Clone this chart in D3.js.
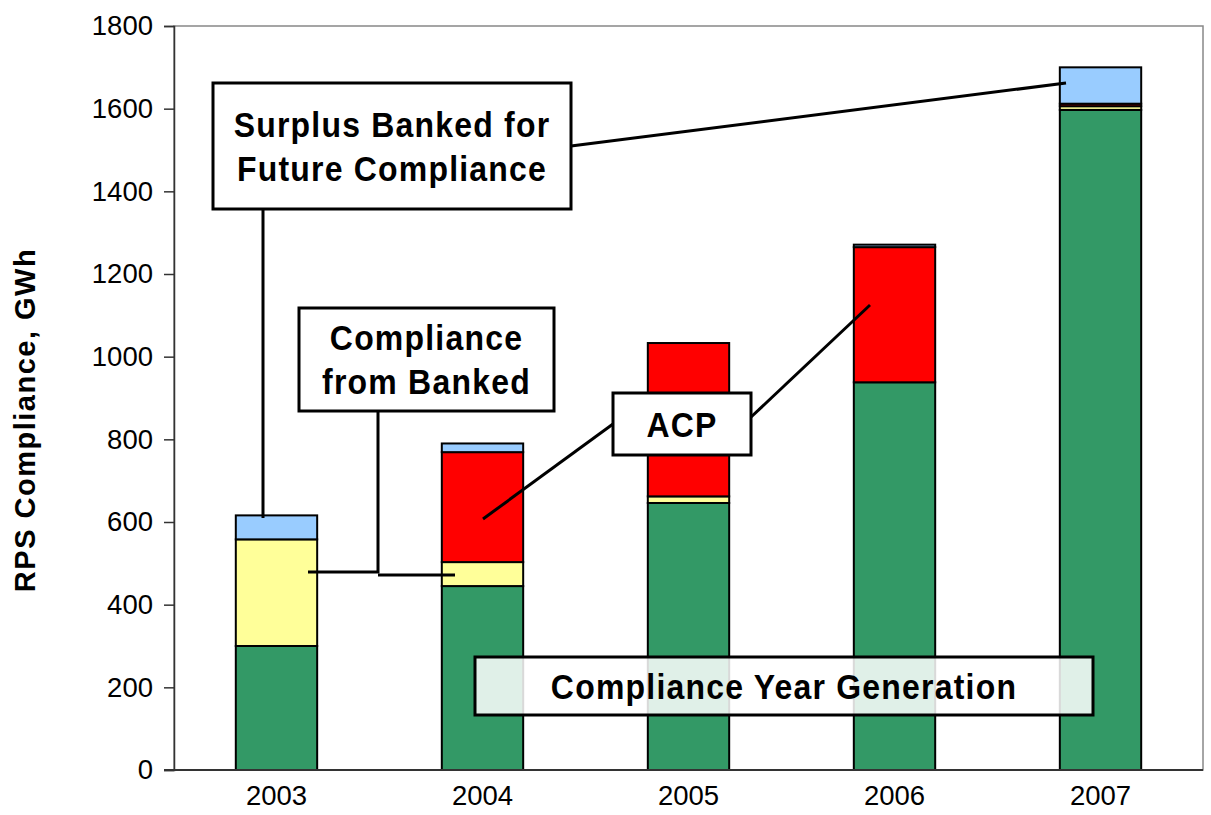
<!DOCTYPE html>
<html>
<head>
<meta charset="utf-8">
<script src="https://cdn.jsdelivr.net/npm/d3@7"></script>
<style>
  body { margin: 0; background: #fff; }
  svg text { font-family: "Liberation Sans", Arial, sans-serif; }
</style>
</head>
<body>
<svg width="1211" height="815"></svg>
<script>
// Data
let years = ["2003", "2004", "2005", "2006", "2007"];
let generation = [300, 445, 646, 938, 1597];
let fromBanked = [258, 58, 16, 0, 9];
let acp = [0, 266, 371, 327, 6];
let surplus = [58, 21, 0, 6, 88];
let yTicks = [0, 200, 400, 600, 800, 1000, 1200, 1400, 1600, 1800];

let seriesKeys = ["generation", "fromBanked", "acp", "surplus"];
let seriesColors = { generation: "#339966", fromBanked: "#ffff99", acp: "#ff0000", surplus: "#99ccff" };

let rows = years.map((y, i) => ({
    year: y,
    generation: generation[i],
    fromBanked: fromBanked[i],
    acp: acp[i],
    surplus: surplus[i]
}));

let svg = d3.select("svg");
let margin = { left: 174, top: 26, right: 8, bottom: 45 };
let width = 1211 - margin.left - margin.right;
let height = 815 - margin.top - margin.bottom;

let x = d3.scaleBand().domain(years).range([margin.left, margin.left + width]).paddingInner(0.605).paddingOuter(0.3);
let y = d3.scaleLinear().domain([0, 1800]).range([margin.top + height, margin.top]);

// Plot area frame
svg.append("rect")
    .attr("x", margin.left).attr("y", margin.top)
    .attr("width", width).attr("height", height)
    .attr("fill", "none").attr("stroke", "#888").attr("stroke-width", 1.5);

// Stacked bars
let stack = d3.stack().keys(seriesKeys);
let layers = stack(rows);

svg.append("g").selectAll("g")
    .data(layers)
    .join("g")
    .attr("fill", d => seriesColors[d.key])
    .selectAll("rect")
    .data(d => d.filter(s => s[1] - s[0] > 0))
    .join("rect")
    .attr("x", d => x(d.data.year))
    .attr("width", x.bandwidth())
    .attr("y", d => y(d[1]))
    .attr("height", d => y(d[0]) - y(d[1]))
    .attr("stroke", "#000")
    .attr("stroke-width", 2);

// Axes
let yAxis = svg.append("g")
    .attr("transform", `translate(${margin.left},0)`)
    .call(d3.axisLeft(y).tickValues(yTicks).tickSize(10).tickPadding(11).tickFormat(d3.format("d")));
yAxis.selectAll("text").attr("font-size", 27.5).attr("fill", "#000").attr("font-family", "Liberation Sans, Arial, sans-serif");
yAxis.selectAll("line, path").attr("stroke", "#333").attr("stroke-width", 1.5);

let xAxis = svg.append("g")
    .attr("transform", `translate(0,${margin.top + height})`)
    .call(d3.axisBottom(x).tickSize(0).tickPadding(15));
xAxis.selectAll("text").attr("font-size", 27.5).attr("fill", "#000").attr("font-family", "Liberation Sans, Arial, sans-serif");
xAxis.select("path").attr("stroke", "#333").attr("stroke-width", 2).attr("d", `M${margin.left - 10},0H${margin.left + width}`);

// Y axis title
svg.append("text")
    .attr("transform", `translate(35,420) rotate(-90)`)
    .attr("text-anchor", "middle")
    .attr("font-size", 29).attr("font-weight", "bold")
    .attr("letter-spacing", 1.5)
    .text("RPS Compliance,  GWh");

// Leader lines
let leaders = svg.append("g").attr("fill", "none").attr("stroke", "#000").attr("stroke-width", 3);
leaders.append("path").attr("d", "M263,209V518");
leaders.append("path").attr("d", "M571,146L1066,83");
leaders.append("path").attr("d", "M378,410V572H308");
leaders.append("path").attr("d", "M378,575H455");
leaders.append("path").attr("d", "M613,424L483,519");
leaders.append("path").attr("d", "M750,418L870,305");

// Annotation boxes
function box(x0, y0, x1, y1, lines, lineGap, opacity) {
    let g = svg.append("g");
    g.append("rect")
        .attr("x", x0).attr("y", y0)
        .attr("width", x1 - x0).attr("height", y1 - y0)
        .attr("fill", "#fff").attr("fill-opacity", opacity)
        .attr("stroke", "#000").attr("stroke-width", 3);
    let cx = (x0 + x1) / 2;
    let cy = (y0 + y1) / 2;
    lines.forEach((t, i) => {
        let ty = cy + (i - (lines.length - 1) / 2) * lineGap;
        g.append("text")
            .attr("transform", `translate(${cx},${ty}) scale(1,1.12)`)
            .attr("dy", "0.36em")
            .attr("text-anchor", "middle")
            .attr("font-size", 32).attr("font-weight", "bold")
            .attr("letter-spacing", 1.2)
            .text(t);
    });
}

box(213, 83, 571, 209, ["Surplus Banked for", "Future Compliance"], 44, 1);
box(299, 308, 554, 411, ["Compliance", "from Banked"], 44, 1);
box(613, 393, 751, 455, ["ACP"], 0, 1);
box(475, 657, 1093, 715, ["Compliance Year Generation"], 0, 0.85);
</script>
</body>
</html>
